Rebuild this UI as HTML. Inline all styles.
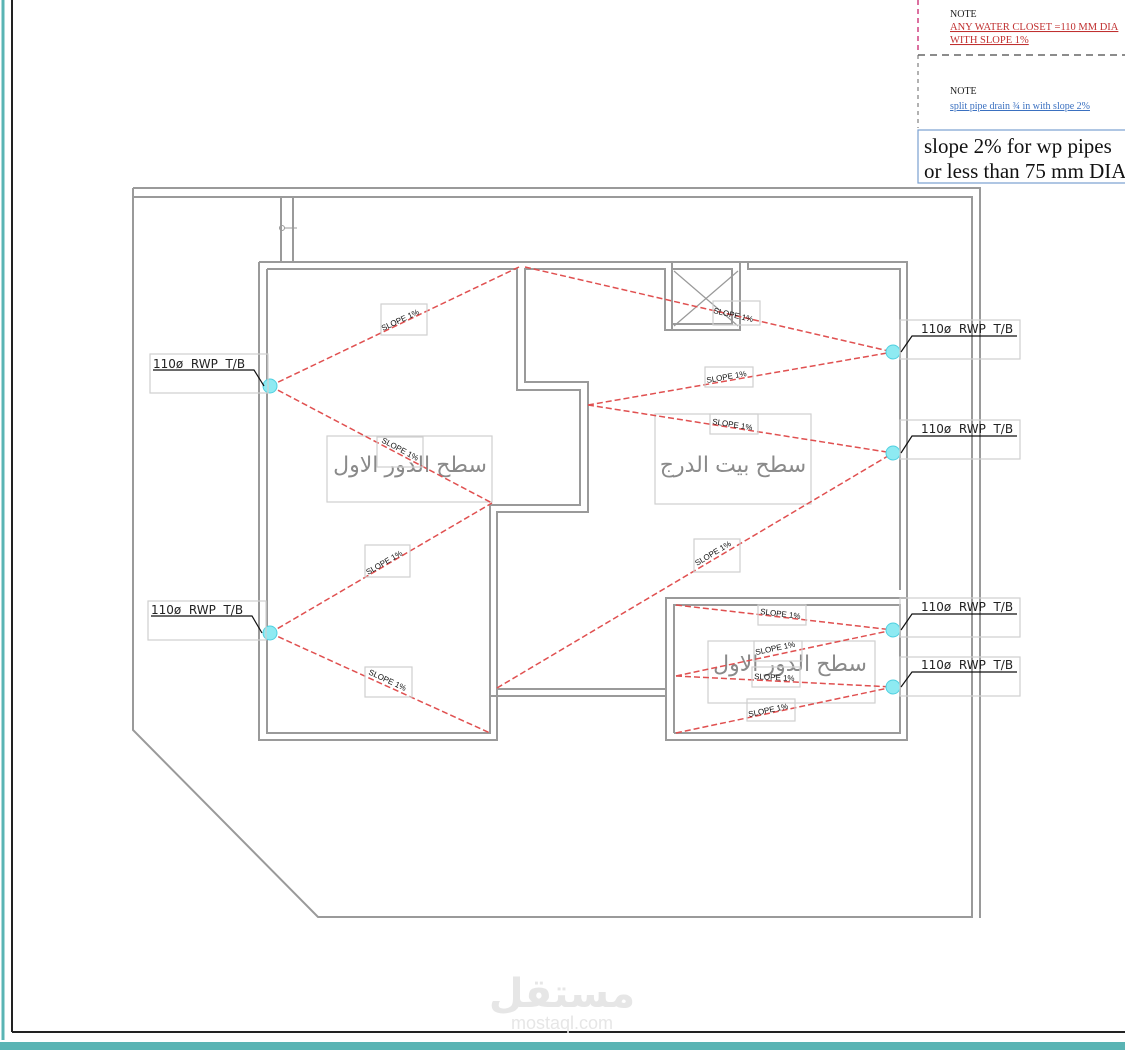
<!DOCTYPE html>
<html><head><meta charset="utf-8"><style>
html,body{margin:0;padding:0;background:#fff;}
svg{display:block;}
.w{fill:none;stroke:#9a9a9a;stroke-width:2;}
.b{fill:none;stroke:#cfcfcf;stroke-width:1.2;}
.r{stroke:#e05050;stroke-width:1.5;stroke-dasharray:6 3;fill:none;}
.t{font-family:"DejaVu Sans","Liberation Sans",sans-serif;font-size:12px;fill:#222;white-space:pre;}
.s{font-family:"Liberation Sans",sans-serif;font-size:8px;fill:#111;}
.ar{font-family:"Liberation Sans","DejaVu Sans",sans-serif;font-size:22px;fill:#8a8a8a;}
</style></head><body>
<svg width="1125" height="1055" viewBox="0 0 1125 1055" xmlns="http://www.w3.org/2000/svg">
<!-- frame -->
<line x1="3" y1="0" x2="3" y2="1040" stroke="#5ab4b4" stroke-width="3"/>
<line x1="12" y1="0" x2="12" y2="1032" stroke="#222" stroke-width="2"/>
<line x1="12" y1="1032" x2="1125" y2="1032" stroke="#222" stroke-width="2"/>
<rect x="0" y="1042" width="1125" height="8" fill="#5ab4b4"/>
<!-- notes -->
<line x1="918" y1="0" x2="918" y2="50" stroke="#d04080" stroke-width="1.5" stroke-dasharray="5 4"/>
<line x1="918" y1="55" x2="918" y2="128" stroke="#666" stroke-width="1" stroke-dasharray="4 4"/>
<line x1="918" y1="55" x2="1125" y2="55" stroke="#666" stroke-width="1.5" stroke-dasharray="7 5"/>
<text x="950" y="17" font-family="Liberation Serif,serif" font-size="10" fill="#222">NOTE</text>
<text x="950" y="30" font-family="Liberation Serif,serif" font-size="10.5" fill="#c03030" text-decoration="underline">ANY WATER CLOSET =110 MM DIA</text>
<text x="950" y="43" font-family="Liberation Serif,serif" font-size="10.5" fill="#c03030" text-decoration="underline">WITH SLOPE 1%</text>
<text x="950" y="94" font-family="Liberation Serif,serif" font-size="10" fill="#222">NOTE</text>
<text x="950" y="109" font-family="Liberation Serif,serif" font-size="10" fill="#3a70c0" text-decoration="underline">split pipe drain ¾ in with slope 2%</text>
<rect x="918" y="130" width="220" height="53" fill="none" stroke="#7aa0d0" stroke-width="1.2"/>
<text x="924" y="153" font-family="Liberation Serif,serif" font-size="21" fill="#111">slope 2% for wp pipes</text>
<text x="924" y="178" font-family="Liberation Serif,serif" font-size="21" fill="#111">or less than 75 mm  DIA</text>
<!-- site outline -->
<polyline class="w" points="133,188 980,188 980,918"/>
<polyline class="w" points="133,197 972,197 972,917 318,917 133,730 133,188"/>
<line class="w" x1="281" y1="197" x2="281" y2="262"/>
<line class="w" x1="293" y1="197" x2="293" y2="262"/>
<circle cx="282" cy="228" r="2.5" fill="none" stroke="#999"/>
<line x1="284" y1="228" x2="297" y2="228" stroke="#999"/>
<!-- building walls -->
<polyline class="w" points="259,262 672,262"/>
<polyline class="w" points="740,262 907,262 907,740 666,740 666,598 907,598"/>
<polyline class="w" points="259,262 259,740 497,740 497,512 588,512 588,382 525,382 525,269 665,269 665,330 740,330 740,269"/>
<polyline class="w" points="267,269 517,269 517,390 580,390 580,505 490,505 490,733 267,733 267,269"/>
<rect class="w" x="672" y="262" width="68" height="68"/>
<rect class="w" x="672" y="269" width="60" height="55"/>
<line x1="674" y1="271" x2="738" y2="326" stroke="#999" stroke-width="1.2"/>
<line x1="738" y1="271" x2="674" y2="326" stroke="#999" stroke-width="1.2"/>
<polyline class="w" points="748,262 748,269 900,269 900,590"/>
<polyline class="w" points="497,512 497,689 666,689"/>
<line class="w" x1="490" y1="696" x2="666" y2="696"/>
<polyline class="w" points="674,733 674,605 900,605 900,733 674,733"/>
<!-- text boxes -->
<rect class="b" x="327" y="436" width="165" height="66"/>
<text class="ar" x="410" y="472" text-anchor="middle">سطح الدور الاول</text>
<rect class="b" x="655" y="414" width="156" height="90"/>
<text class="ar" x="733" y="472" text-anchor="middle">سطح بيت الدرج</text>
<rect class="b" x="708" y="641" width="167" height="62"/>
<text class="ar" x="790" y="671" text-anchor="middle">سطح الدور الاول</text>
<!-- red slope lines -->
<g class="r">
<line x1="270" y1="386" x2="519" y2="267"/>
<line x1="270" y1="386" x2="492" y2="503"/>
<line x1="270" y1="633" x2="492" y2="503"/>
<line x1="270" y1="633" x2="490" y2="733"/>
<line x1="525" y1="267" x2="893" y2="352"/>
<line x1="588" y1="405" x2="893" y2="352"/>
<line x1="588" y1="405" x2="893" y2="453"/>
<line x1="497" y1="688" x2="893" y2="453"/>
<line x1="676" y1="605" x2="893" y2="630"/>
<line x1="676" y1="676" x2="893" y2="630"/>
<line x1="676" y1="676" x2="893" y2="687"/>
<line x1="676" y1="733" x2="893" y2="687"/>
</g>
<!-- slope labels -->
<g>
<rect class="b" x="381" y="304" width="46" height="31"/>
<text class="s" transform="translate(383,331) rotate(-25)">SLOPE 1%</text>
<rect class="b" x="377" y="437" width="46" height="30"/>
<text class="s" transform="translate(381,442) rotate(28)">SLOPE 1%</text>
<rect class="b" x="365" y="545" width="45" height="32"/>
<text class="s" transform="translate(368,575) rotate(-30)">SLOPE 1%</text>
<rect class="b" x="365" y="667" width="47" height="30"/>
<text class="s" transform="translate(368,674) rotate(25)">SLOPE 1%</text>
<rect class="b" x="713" y="301" width="47" height="24"/>
<text class="s" transform="translate(713,313) rotate(13)">SLOPE 1%</text>
<rect class="b" x="705" y="367" width="48" height="20"/>
<text class="s" transform="translate(707,383) rotate(-10)">SLOPE 1%</text>
<rect class="b" x="710" y="414" width="48" height="20"/>
<text class="s" transform="translate(712,424) rotate(9)">SLOPE 1%</text>
<rect class="b" x="694" y="539" width="46" height="33"/>
<text class="s" transform="translate(697,566) rotate(-31)">SLOPE 1%</text>
<rect class="b" x="758" y="605" width="48" height="20"/>
<text class="s" transform="translate(760,614) rotate(7)">SLOPE 1%</text>
<rect class="b" x="754" y="641" width="48" height="20"/>
<text class="s" transform="translate(756,655) rotate(-12)">SLOPE 1%</text>
<rect class="b" x="752" y="667" width="48" height="20"/>
<text class="s" transform="translate(754,679) rotate(3)">SLOPE 1%</text>
<rect class="b" x="747" y="699" width="48" height="22"/>
<text class="s" transform="translate(749,717) rotate(-12)">SLOPE 1%</text>
</g>
<!-- drains -->
<g fill="#8eeaf2" stroke="#50d0e0" stroke-width="1">
<circle cx="270" cy="386" r="7"/><circle cx="270" cy="633" r="7"/>
<circle cx="893" cy="352" r="7"/><circle cx="893" cy="453" r="7"/>
<circle cx="893" cy="630" r="7"/><circle cx="893" cy="687" r="7"/>
</g>
<!-- RWP labels -->
<g>
<rect class="b" x="150" y="354" width="118" height="39"/>
<text class="t" x="153" y="368">110ø  RWP  T/B</text>
<polyline points="153,370 254,370 264,386" fill="none" stroke="#111" stroke-width="1.2"/>
<rect class="b" x="148" y="601" width="118" height="39"/>
<text class="t" x="151" y="614">110ø  RWP  T/B</text>
<polyline points="151,616 252,616 262,633" fill="none" stroke="#111" stroke-width="1.2"/>
<rect class="b" x="900" y="320" width="120" height="39"/>
<text class="t" x="921" y="333">110ø  RWP  T/B</text>
<polyline points="1017,336 912,336 901,352" fill="none" stroke="#111" stroke-width="1.2"/>
<rect class="b" x="900" y="420" width="120" height="39"/>
<text class="t" x="921" y="433">110ø  RWP  T/B</text>
<polyline points="1017,436 912,436 901,453" fill="none" stroke="#111" stroke-width="1.2"/>
<rect class="b" x="900" y="598" width="120" height="39"/>
<text class="t" x="921" y="611">110ø  RWP  T/B</text>
<polyline points="1017,614 912,614 901,630" fill="none" stroke="#111" stroke-width="1.2"/>
<rect class="b" x="900" y="657" width="120" height="39"/>
<text class="t" x="921" y="669">110ø  RWP  T/B</text>
<polyline points="1017,672 912,672 901,687" fill="none" stroke="#111" stroke-width="1.2"/>
</g>
<!-- watermark -->
<text x="562" y="1007" text-anchor="middle" font-family="DejaVu Sans,sans-serif" font-size="40" font-weight="bold" fill="#e6e6e6">مستقل</text>
<text x="562" y="1029" text-anchor="middle" font-family="Liberation Sans,sans-serif" font-size="18" fill="#e6e6e6">mostaql.com</text>
</svg>
</body></html>
